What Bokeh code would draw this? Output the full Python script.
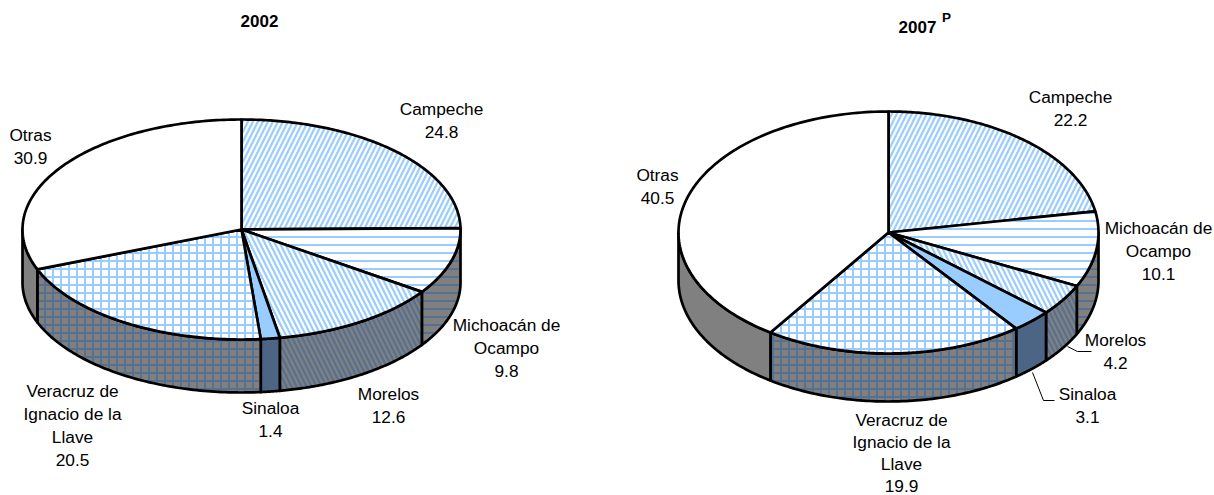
import numpy as np
from bokeh.plotting import figure
from bokeh.models import Range1d
from bokeh.core.properties import value
from bokeh.embed import file_html
from bokeh.resources import INLINE

values_2002 = [24.8, 9.8, 12.6, 1.4, 20.5, 30.9]
values_2007 = [22.2, 10.1, 4.2, 3.1, 19.9, 40.5]
labels_2002 = [
    ("Campeche\n24.8", 441, 108, 23.2), ("Michoacán de\nOcampo\n9.8", 506, 324, 23.2),
    ("Morelos\n12.6", 388, 393, 23.2), ("Sinaloa\n1.4", 270, 407, 23.2),
    ("Veracruz de\nIgnacio de la\nLlave\n20.5", 72, 390, 23.2), ("Otras\n30.9", 30, 134, 23.2),
]
labels_2007 = [
    ("Campeche\n22.2", 1070, 96, 23.2), ("Michoacán de\nOcampo\n10.1", 1158, 227, 23.2),
    ("Morelos\n4.2", 1115, 339, 23.2), ("Sinaloa\n3.1", 1087, 393, 23.2),
    ("Veracruz de\nIgnacio de la\nLlave\n19.9", 901, 419, 22.2), ("Otras\n40.5", 657, 174, 23.2),
]
patterns = ["right_diagonal_line", "horizontal_line", "left_diagonal_line", None, "cross", None]
hatch_scales = [10, 8, 10, None, 8, None]
hatch_weights = [2.2, 2, 2.2, None, 2, None]
top_fill = ["#ffffff", "#ffffff", "#ffffff", "#99ccff", "#ffffff", "#ffffff"]
side_fill = ["#808080", "#808080", "#808080", "#4d6585", "#808080", "#808080"]
FONT = value("Liberation Sans")

p = figure(width=1214, height=495, output_backend="svg", toolbar_location=None,
           x_range=Range1d(0, 1214), y_range=Range1d(495, 0), min_border=0,
           outline_line_color=None)
p.axis.visible = False
p.grid.visible = False


def pt(cx, cy, rx, ry, th):
    return cx + rx * np.sin(th), cy - ry * np.cos(th)


def hatch(i, color):
    if not patterns[i]:
        return {}
    return dict(hatch_pattern=patterns[i], hatch_color=color, hatch_weight=hatch_weights[i],
                hatch_scale=hatch_scales[i])


def draw_pie(vals, cx, cy, rx, ry, depth):
    edges = np.cumsum([0] + vals) / sum(vals) * 2 * np.pi
    for i in range(len(vals)):
        a, b = max(edges[i], np.pi / 2), min(edges[i + 1], 3 * np.pi / 2)
        if b <= a:
            continue
        t = np.linspace(a, b, 80)
        x, y = pt(cx, cy, rx, ry, t)
        xs = np.concatenate([x, x[::-1]])
        ys = np.concatenate([y, y[::-1] + depth])
        p.patch(xs, ys, fill_color=side_fill[i], line_color="black", line_width=2.7,
                line_join="round", **hatch(i, "#56708f"))
    for i in range(len(vals)):
        t = np.linspace(edges[i], edges[i + 1], 120)
        x, y = pt(cx, cy, rx, ry, t)
        xs = np.concatenate([[cx], x])
        ys = np.concatenate([[cy], y])
        p.patch(xs, ys, fill_color=top_fill[i], line_color="black", line_width=2.7,
                line_join="round", **hatch(i, "#99ccff"))


def draw_labels(labels):
    for txt, x, y, lh in labels:
        for j, line in enumerate(txt.split("\n")):
            p.text([x], [y + j * lh], text=[line], text_font=FONT, text_font_size="17.3px",
                   text_align="center", text_baseline="middle", text_color="black")


draw_pie(values_2002, 241, 229, 219, 110, 53)
draw_pie(values_2007, 888, 232, 210, 121, 48)
draw_labels(labels_2002)
draw_labels(labels_2007)

p.text([259], [20], text=["2002"], text_font=FONT, text_font_style="bold", text_font_size="17px",
       text_align="center", text_baseline="middle", text_color="black")
p.text([917], [26], text=["2007"], text_font=FONT, text_font_style="bold", text_font_size="17px",
       text_align="center", text_baseline="middle", text_color="black")
p.text([946], [17], text=["P"], text_font=FONT, text_font_style="bold", text_font_size="13.5px",
       text_align="center", text_baseline="middle", text_color="black")

p.line([1067, 1077, 1091], [346, 351, 351], line_color="black", line_width=1)
p.line([1032, 1043, 1054], [372, 400, 400], line_color="black", line_width=1)

open("out.html", "w").write(file_html(p, INLINE))
